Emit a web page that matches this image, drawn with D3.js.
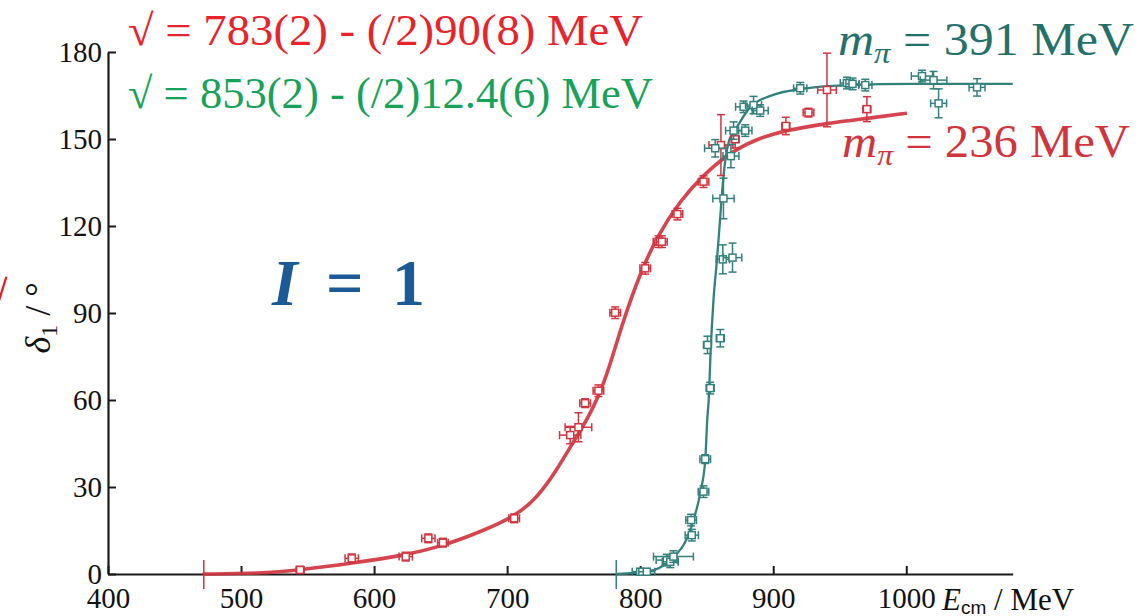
<!DOCTYPE html>
<html>
<head>
<meta charset="utf-8">
<script src="https://cdn.jsdelivr.net/npm/d3@7"></script>
<style>
  html, body { margin: 0; padding: 0; background: #fff; }
  svg { display: block; font-family: "Liberation Serif", "Times New Roman", serif; }
</style>
</head>
<body>
<svg id="chart" width="1140" height="616"></svg>
<script>
// Axis ticks
const xTicks = [400, 500, 600, 700, 800, 900, 1000];
const yTicks = [0, 30, 60, 90, 120, 150, 180];

// Two-pion thresholds 2·m_π (MeV)
const thresholdRed = 472;
const thresholdTeal = 782;

// Phase-shift fits [E_cm (MeV), δ1 (deg)]
const fitRed = [
  [471.1, 0], [514.3, 0.14], [544.4, 1.38], [583.2, 3.69], [623.8, 6.55],
  [651.7, 9.66], [679.7, 14.5], [705.3, 19.7], [722.3, 26.1], [737.4, 35.9],
  [749.8, 45.6], [759.9, 53.1], [768.6, 61.1], [776.2, 70.3], [787.4, 87.6],
  [800, 103.7], [812.5, 116.3], [830.1, 128.8], [847.6, 137.6], [865.2, 144.5],
  [885.2, 149.7], [910.2, 153.1], [940.4, 155.4], [970.4, 157.1], [1000.5, 158.9]
];
const fitTeal = [
  [782.7, 0], [805, 0.8], [822.6, 4.8], [837.6, 15.2], [845.1, 27.9],
  [848.9, 39.3], [850.4, 53.1], [851.5, 60], [853.0, 77.2], [855.1, 94.5],
  [857.7, 108.3], [860.2, 123.1], [861.7, 132.4], [864.0, 142.8], [867.0, 149.7],
  [872.7, 154.1], [882.7, 161], [900, 165.2], [920.3, 167.2], [955.6, 168.6],
  [1005.3, 169], [1080, 169]
];

// Lattice levels [E_cm, δ1, σE, σδ]
const pointsRed = [
  [544.4, 1.4, 3, 1.2], [583.2, 5.4, 5, 1.5], [623.8, 6.0, 5, 1.5], [640.8, 12.3, 5, 1.5],
  [651.7, 10.8, 4, 1.5], [705.3, 19.2, 4, 1.5], [747.4, 47.9, 8, 3], [753.6, 50.6, 10, 5],
  [758.6, 58.9, 4, 1.5], [768.6, 63.2, 4, 2], [781.2, 90.1, 4, 2], [803.8, 105.4, 4, 2],
  [813.8, 114.6, 4, 2], [816.3, 114.6, 4, 2], [828.0, 124.1, 4, 2], [847.6, 135.3, 4, 2],
  [860.7, 147.9, 9, 10.5], [871.4, 149.9, 3, 3], [909.5, 154.5, 3, 3], [926.5, 159.1, 4, 1.5],
  [940.4, 166.9, 7, 12.7], [970.4, 160.3, 3, 4.3]
];
const pointsTeal = [
  [800, 0.8, 6, 1], [805, 0.8, 6, 1], [820, 4.8, 8, 2], [822.6, 4.2, 6, 2], [825, 6.0, 15, 2],
  [838.8, 13.4, 5, 2], [838.3, 18.6, 4, 2], [847.6, 28.4, 4, 2], [848.9, 39.6, 4, 1.5],
  [852.6, 64.1, 3, 2], [850.6, 79, 3, 3], [860.2, 81.3, 3, 3], [862.1, 108.5, 5, 5],
  [869.4, 109.1, 7, 5], [862.6, 129.5, 8, 7], [856.4, 146.8, 8, 3], [868.2, 144.1, 6, 4],
  [870.2, 152.9, 6, 3], [879, 152.9, 5, 2], [877.7, 161.1, 6, 2], [885.2, 161.7, 6, 3],
  [890.2, 159.8, 6, 2], [920.3, 167.5, 5, 2], [955.4, 169.3, 5, 2], [959.6, 169, 5, 2],
  [969.2, 168.6, 5, 2], [1011.8, 171.7, 8, 2], [1020.5, 170.3, 10, 3], [1024.3, 162.3, 6, 5],
  [1053.2, 167.8, 6, 3]
];

const RED = "#d1343f", TEAL = "#33817c";

const svg = d3.select("#chart");
const x = d3.scaleLinear().domain([400, 1080]).range([108, 1012.7]);
const y = d3.scaleLinear().domain([0, 180]).range([574, 52]);

const defs = svg.append("defs");
defs.append("filter").attr("id", "soft")
  .append("feGaussianBlur").attr("stdDeviation", 0.7);

// Axes
const xAxis = d3.axisBottom(x).tickValues(xTicks).tickFormat(d3.format("d"))
  .tickSizeInner(-8).tickSizeOuter(0).tickPadding(13);
const yAxis = d3.axisLeft(y).tickValues(yTicks).tickFormat(d3.format("d"))
  .tickSizeInner(-8).tickSizeOuter(0).tickPadding(6);

const gx = svg.append("g").attr("transform", `translate(0,${y(0)})`).call(xAxis);
const gy = svg.append("g").attr("transform", `translate(${x(400)},0)`).call(yAxis);
[gx, gy].forEach(g => {
  g.selectAll("path.domain").attr("stroke", "#1a1a1a").attr("stroke-width", 2.2);
  g.selectAll(".tick line").attr("stroke", "#1a1a1a").attr("stroke-width", 2);
  g.selectAll(".tick text").attr("fill", "#111").attr("font-size", 29)
    .attr("font-family", "Liberation Serif, serif");
});

// Threshold markers
function threshold(E, color) {
  svg.append("line").attr("x1", x(E)).attr("x2", x(E))
    .attr("y1", y(0) - 14).attr("y2", y(0) + 15)
    .attr("stroke", color).attr("stroke-width", 1.5);
}
threshold(thresholdRed, RED);
threshold(thresholdTeal, TEAL);

// Fit curves
const smooth = d3.line().x(d => x(d[0])).y(d => y(d[1])).curve(d3.curveBasis);
const steep = d3.line().x(d => x(d[0])).y(d => y(d[1])).curve(d3.curveMonotoneX);
svg.append("path").datum(fitRed).attr("d", smooth)
  .attr("fill", "none").attr("stroke", RED).attr("stroke-width", 3.6)
  .attr("stroke-opacity", 0.92).attr("filter", "url(#soft)");
svg.append("path").datum(fitTeal).attr("d", steep)
  .attr("fill", "none").attr("stroke", TEAL).attr("stroke-width", 2.3);

// Points with error bars
function drawPoints(data, color) {
  const g = svg.append("g").attr("stroke", color).attr("stroke-width", 1.5).attr("fill", "none");
  const cap = 4, box = 7;
  const pt = g.selectAll("g").data(data).join("g");
  pt.append("line").attr("x1", d => x(d[0] - d[2])).attr("x2", d => x(d[0] + d[2]))
    .attr("y1", d => y(d[1])).attr("y2", d => y(d[1]));
  pt.append("line").attr("x1", d => x(d[0])).attr("x2", d => x(d[0]))
    .attr("y1", d => y(d[1] - d[3])).attr("y2", d => y(d[1] + d[3]));
  pt.append("line").attr("x1", d => x(d[0] - d[2])).attr("x2", d => x(d[0] - d[2]))
    .attr("y1", d => y(d[1]) - cap).attr("y2", d => y(d[1]) + cap);
  pt.append("line").attr("x1", d => x(d[0] + d[2])).attr("x2", d => x(d[0] + d[2]))
    .attr("y1", d => y(d[1]) - cap).attr("y2", d => y(d[1]) + cap);
  pt.append("line").attr("x1", d => x(d[0]) - cap).attr("x2", d => x(d[0]) + cap)
    .attr("y1", d => y(d[1] - d[3])).attr("y2", d => y(d[1] - d[3]));
  pt.append("line").attr("x1", d => x(d[0]) - cap).attr("x2", d => x(d[0]) + cap)
    .attr("y1", d => y(d[1] + d[3])).attr("y2", d => y(d[1] + d[3]));
  pt.append("rect").attr("x", d => x(d[0]) - box / 2).attr("y", d => y(d[1]) - box / 2)
    .attr("width", box).attr("height", box).attr("fill", "#fff");
}
drawPoints(pointsRed, RED);
drawPoints(pointsTeal, TEAL);

// Resonance parameters
const txt = svg.append("g").attr("font-family", "Liberation Serif, serif");
txt.append("text").attr("x", 128).attr("y", 45).attr("font-size", 44).attr("fill", "#e8232b")
  .attr("textLength", 515).attr("lengthAdjust", "spacingAndGlyphs")
  .text("√ = 783(2) - (/2)90(8) MeV");
txt.append("text").attr("x", 128).attr("y", 108).attr("font-size", 44).attr("fill", "#17a25a")
  .attr("textLength", 525).attr("lengthAdjust", "spacingAndGlyphs")
  .text("√ = 853(2) - (/2)12.4(6) MeV");

// Pion-mass labels
function massLabel(xp, yp, value, color, w) {
  const t = txt.append("text").attr("x", xp).attr("y", yp).attr("font-size", 46).attr("fill", color)
    .attr("textLength", w).attr("lengthAdjust", "spacingAndGlyphs");
  t.append("tspan").attr("font-style", "italic").text("m");
  t.append("tspan").attr("font-style", "italic").attr("font-size", 30).attr("dy", 8).text("π");
  t.append("tspan").attr("dy", -8).text(" = " + value + " MeV");
}
massLabel(838, 55, 391, "#26706c", 296);
massLabel(842, 157, 236, "#d2343e", 288);

// Isospin label
const iso = txt.append("text").attr("x", 272).attr("y", 305).attr("font-size", 66)
  .attr("font-weight", "bold").attr("fill", "#1b5a96")
  .attr("textLength", 153).attr("lengthAdjust", "spacing");
iso.append("tspan").attr("font-style", "italic").text("I");
iso.append("tspan").text(" = 1");

// Axis titles
const yl = txt.append("text").attr("transform", "translate(50,318) rotate(-90)")
  .attr("text-anchor", "middle").attr("font-size", 36).attr("fill", "#111");
yl.append("tspan").attr("font-style", "italic").text("δ");
yl.append("tspan").attr("font-size", 24).attr("dy", 7).text("1");
yl.append("tspan").attr("dy", -7).text(" / °");

const xl = txt.append("text").attr("x", 942).attr("y", 610).attr("font-size", 31).attr("fill", "#111");
xl.append("tspan").attr("font-style", "italic").text("E");
xl.append("tspan").attr("font-family", "Liberation Sans, sans-serif").attr("font-size", 19).attr("dy", 4).text("cm");
xl.append("tspan").attr("dy", -4).text(" / MeV");

// Clipped glyph at the left edge
txt.append("text").attr("x", -21).attr("y", 318).attr("font-size", 52)
  .attr("font-weight", "bold").attr("fill", "#e31b23").text("√");
</script>
</body>
</html>
